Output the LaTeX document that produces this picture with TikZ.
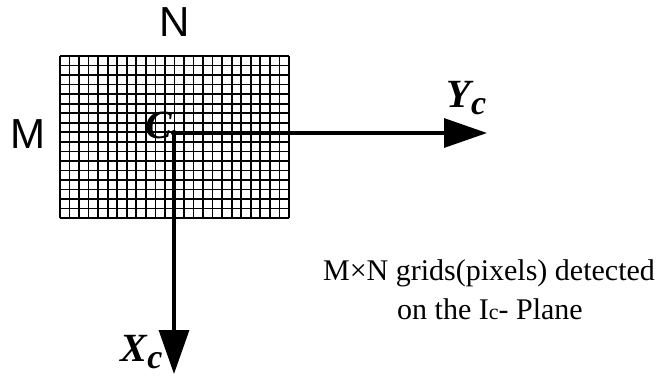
\documentclass[tikz,border=0pt]{standalone}
\usepackage{fontspec}
\setmainfont{Liberation Serif}
\newfontfamily\labelsans{Liberation Sans}
\usetikzlibrary{arrows.meta,positioning}

\begin{document}
\begin{tikzpicture}[x=0.5pt,y=-0.5pt,
    axis/.style={line width=1.6pt},
    gridline/.style={line width=0.85pt},
    sidelabel/.style={font=\labelsans\fontsize{21}{21}\selectfont},
    axislabel/.style={font=\bfseries\itshape\fontsize{20}{20}\selectfont, inner sep=0pt},
    caption/.style={font=\fontsize{15}{17}\selectfont, inner sep=0pt, anchor=base}]
        \useasboundingbox (0,0) rectangle (670,380);
        \foreach \i in {0,...,24}
            \draw[gridline] (60+\i*9.54,56) -- (60+\i*9.54,218);
        \foreach \j in {0,...,17}
            \draw[gridline] (60,56+\j*9.54) -- (289,56+\j*9.54);
        \node[sidelabel] (nlab) at (175,22) {N};
        \node[sidelabel] (mlab) at (28,134) {M};
        \coordinate (cpt) at (174,133);
        \coordinate (yend) at (487,133);
        \coordinate (xend) at (174,374);
        \draw[axis, -{Triangle[length=21.5pt,width=14.5pt]}] (cpt) -- (yend);
        \draw[axis, -{Triangle[length=22pt,width=15pt]}] (cpt) -- (xend);
        \fill (cpt) circle (3);
        \node[axislabel] (clab) at (159,125) {C};
        \node[axislabel] (ylab) at (467,98) {Y\textsubscript{\fontsize{17}{17}\selectfont c}};
        \node[axislabel] (xlab) at (142,352) {X\textsubscript{\fontsize{17}{17}\selectfont c}};
        \node[caption] (cap1) at (489,280) {M\texttimes N grids(pixels) detected};
        \node[caption] (cap2) at (490,319) {on the I{\fontsize{11}{11}\selectfont c}- Plane};
\end{tikzpicture}
\end{document}
